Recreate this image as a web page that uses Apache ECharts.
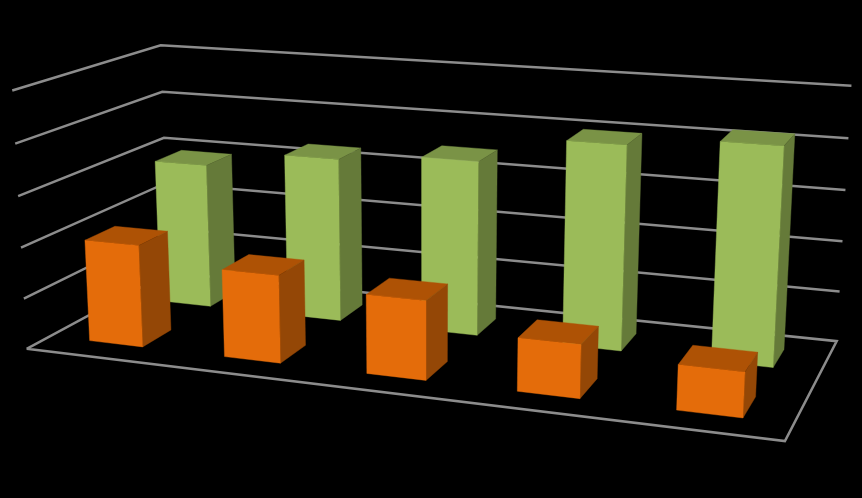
<!DOCTYPE html>
<html><head><meta charset="utf-8">
<style>html,body{margin:0;padding:0;background:#000}#c{width:862px;height:498px}</style>
<script src="https://cdn.jsdelivr.net/npm/echarts@6/dist/echarts.min.js"></script>
</head><body><div id="c"></div>
<script>
var categories = ['1','2','3','4','5'];
var frontValues = [2.01,1.70,1.51,1.00,0.83];
var backValues = [2.96,3.30,3.47,4.00,4.19];
var levels = [0,1,2,3,4,5];

var gapFactor = 2.5;
var colors = {
  front:{face:'#E46C0A',top:'#AE5205',side:'#944706'},
  back:{face:'#9BBB59',top:'#7A9346',side:'#657A39'}
};

// Camera calibration: known box corners [x, depth, z] seen at screen [px, py]
var calib = [
  [0,0,0,27,349],[1,0,0,785,441],[1,1,0,836,341],
  [0,0,5,12,90.5],[0,1,5,162,45],[1,1,5,851,86],
  [0,0,4,15,144],[0,0,3,18,196],[0,0,2,21,248],[0,0,1,24,298],
  [1,1,4,848,138],[1,1,3,846,190],[1,1,2,843,241],[1,1,1,840,292],
  [0,1,4,162,92],[0,1,3,163,138]
];
function solveCamera(pts){
  var n=11,A=[],i,j,k,S=500;
  for(i=0;i<n;i++){A.push(new Array(n+1).fill(0));}
  function add(r,b){for(var a=0;a<n;a++){for(var c=0;c<n;c++)A[a][c]+=r[a]*r[c];A[a][n]+=r[a]*b;}}
  pts.forEach(function(p){
    var X=p[0],Y=p[1],Z=p[2]/5,u=p[3]/S,v=p[4]/S;
    add([X,Y,Z,1,0,0,0,0,-u*X,-u*Y,-u*Z],u);
    add([0,0,0,0,X,Y,Z,1,-v*X,-v*Y,-v*Z],v);
  });
  for(i=0;i<n;i++){
    var m=i;for(j=i+1;j<n;j++)if(Math.abs(A[j][i])>Math.abs(A[m][i]))m=j;
    var t=A[i];A[i]=A[m];A[m]=t;
    for(j=i+1;j<n;j++){var f=A[j][i]/A[i][i];for(k=i;k<=n;k++)A[j][k]-=f*A[i][k];}
  }
  var s=new Array(n);
  for(i=n-1;i>=0;i--){var v2=A[i][n];for(j=i+1;j<n;j++)v2-=A[i][j]*s[j];s[i]=v2/A[i][i];}
  return s;
}
var P=solveCamera(calib);
function proj(x,d,z){
  var Z=z/5,w=P[8]*x+P[9]*d+P[10]*Z+1;
  return [500*(P[0]*x+P[1]*d+P[2]*Z+P[3])/w,500*(P[4]*x+P[5]*d+P[6]*Z+P[7])/w];
}
function poly(pts,color){
  return {type:'polygon',silent:true,shape:{points:pts},style:{fill:color,stroke:color,lineWidth:0.4}};
}
function barSeries(values,row,pal){
  var n=categories.length;
  return {
    type:'custom',coordinateSystem:'none',silent:true,animation:false,clip:false,
    data:values.map(function(v,i){return [i,v];}),
    renderItem:function(params,api){
      var i=api.value(0),v=api.value(1);
      var cw=1/n,bw=cw/gapFactor,x0=(i+.5)*cw-bw/2,x1=x0+bw;
      var rd=1/2,bd=rd/gapFactor,d0=(row+.5)*rd-bd/2,d1=d0+bd;
      var a=proj(x0,d0,0),b=proj(x1,d0,0),c=proj(x1,d1,0);
      var e=proj(x0,d0,v),f=proj(x1,d0,v),g=proj(x1,d1,v),h=proj(x0,d1,v);
      return {type:'group',children:[
        poly([e,f,g,h],pal.top),
        poly([b,c,g,f],pal.side),
        poly([a,b,f,e],pal.face)
      ]};
    }
  };
}
var frameSeries={
  type:'custom',coordinateSystem:'none',silent:true,animation:false,clip:false,
  data:levels.map(function(l){return [l];}),
  renderItem:function(params,api){
    var z=api.value(0);
    var pts=[proj(0,0,z),proj(0,1,z),proj(1,1,z)];
    if(z===0){pts.push(proj(1,0,0));pts.push(proj(0,0,0));}
    return {type:'polyline',silent:true,shape:{points:pts},style:{fill:null,stroke:'#8C8C8C',lineWidth:2.5}};
  }
};
var chart=echarts.init(document.getElementById('c'),null,{renderer:'canvas'});
chart.setOption({
  backgroundColor:'#000000',animation:false,
  series:[frameSeries,barSeries(backValues,1,colors.back),barSeries(frontValues,0,colors.front)]
});
</script></body></html>
